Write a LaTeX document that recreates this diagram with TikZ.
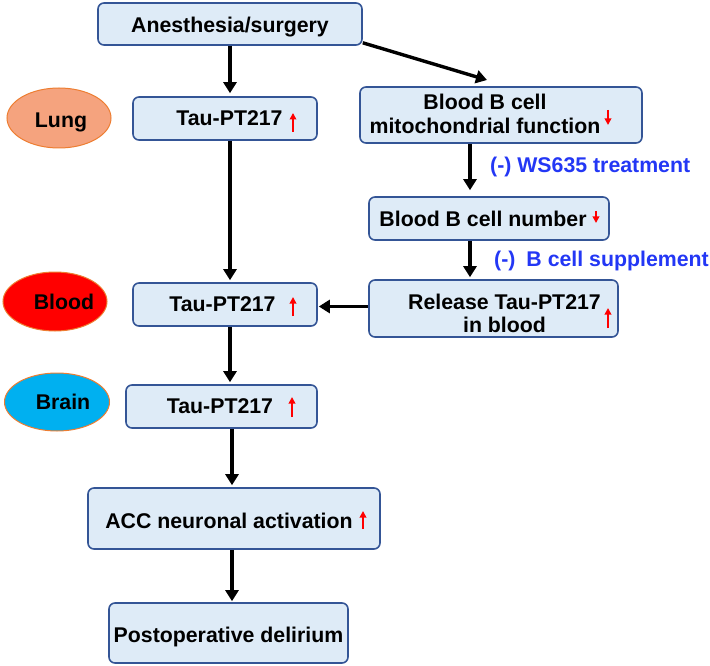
\documentclass[tikz,border=0pt]{standalone}
\usepackage{fontspec}
\setmainfont{Liberation Sans}
\usetikzlibrary{arrows.meta,shapes.geometric}
\definecolor{boxfill}{RGB}{222,235,247}
\definecolor{boxline}{RGB}{52,85,150}
\definecolor{regionline}{RGB}{237,125,49}
\definecolor{lungfill}{RGB}{245,163,126}
\definecolor{bloodfill}{RGB}{255,0,0}
\definecolor{brainfill}{RGB}{0,176,240}
\definecolor{noteblue}{RGB}{35,55,245}
\begin{document}
\begin{tikzpicture}[x=1pt,y=-1pt,
  font=\bfseries\fontsize{21.3}{23.5}\selectfont,
  box/.style={draw=boxline, fill=boxfill, line width=1.6pt, rounded corners=6pt, inner sep=0pt},
  region/.style={ellipse, draw=regionline, line width=1pt, inner sep=0pt, minimum width=104pt, minimum height=59pt},
  arr/.style={line width=3.4pt, -{Triangle[length=11pt,width=13pt]}},
  redup/.style={draw=red, line width=2pt, -{Triangle[length=6.5pt,width=6.5pt]}},
  note/.style={text=noteblue, anchor=west, inner sep=0pt}]
\useasboundingbox (0,0) rectangle (710,666);

% boxes
\node[box, minimum width=264pt, minimum height=42pt, label={[text depth=0pt,yshift=-1pt]center:Anesthesia/surgery}] (anest) at (230,24) {};
\node[box, minimum width=184pt, minimum height=43pt, label={[xshift=4.5pt]center:Tau-PT217}] (tau1) at (225,118.5) {};
\node[box, minimum width=282pt, minimum height=56pt, label={[xshift=-16pt,yshift=1pt,align=center]center:Blood B cell\\mitochondrial function}] (mito) at (501,115) {};
\node[box, minimum width=240pt, minimum height=43pt, label={[xshift=-6pt]center:Blood B cell number}] (number) at (489,218.5) {};
\node[box, minimum width=249pt, minimum height=57pt, label={[xshift=11pt,yshift=-5pt,align=center]center:Release Tau-PT217\\in blood}] (release) at (493.5,308.5) {};
\node[box, minimum width=184pt, minimum height=43pt, label={[xshift=-2.5pt]center:Tau-PT217}] (tau2) at (225,304.5) {};
\node[box, minimum width=191pt, minimum height=43pt, label={[xshift=-1.5pt]center:Tau-PT217}] (tau3) at (221.5,406.5) {};
\node[box, minimum width=292pt, minimum height=61pt, label={[xshift=-5pt,yshift=-2pt]center:ACC neuronal activation}] (acc) at (234,518.5) {};
\node[box, minimum width=239pt, minimum height=60pt, label={[text depth=0pt,yshift=-2pt]center:Postoperative delirium}] (post) at (228.5,633) {};

% region ellipses
\node[region, fill=lungfill, minimum height=60pt, label={[text depth=0pt,xshift=2pt,yshift=-2pt]center:Lung}] (lung) at (59,118) {};
\node[region, fill=bloodfill, label={[xshift=9pt]center:Blood}] (blood) at (55,301.5) {};
\node[region, fill=brainfill, minimum width=105pt, minimum height=58pt, label={[xshift=6pt]center:Brain}] (brain) at (57,402) {};

% notes
\node[note] (ws) at (490,167) {(-) WS635 treatment};
\node[note] (bsup) at (494,261) {(-)\hspace{11pt}B cell supplement};

% connector helpers
\coordinate (mitoin) at (487,80);
\coordinate (rcol) at (470,0);
\coordinate (lcol) at (232,0);

% connectors
\draw[arr, shorten >=3pt] (anest.south) -- (anest.south |- tau1.north);
\draw[arr] ([yshift=3pt]anest.south east) -- (mitoin);
\draw[arr, shorten >=6pt] (mito.south -| rcol) -- (number.north -| rcol);
\draw[arr, shorten >=2pt] (number.south -| rcol) -- (release.north -| rcol);
\draw[arr, shorten >=1pt] ([yshift=2pt]release.west) -- ([yshift=2pt]release.west -| tau2.east);
\draw[arr, shorten >=2pt] (tau1.south -| anest.south) -- (tau2.north -| anest.south);
\draw[arr, shorten >=2pt] (tau2.south -| anest.south) -- (tau3.north -| anest.south);
\draw[arr, shorten >=2pt] (tau3.south -| lcol) -- (acc.north -| lcol);
\draw[arr, shorten >=1pt] (acc.south -| lcol) -- (post.north -| lcol);

% red change marks
\draw[redup] (293,132) -- (293,113);
\draw[redup] (608,110) -- (608,125);
\draw[redup] (596,211) -- (596,223);
\draw[redup] (608,328) -- (608,308);
\draw[redup] (293,316) -- (293,297);
\draw[redup] (292,417) -- (292,397);
\draw[redup] (363,529) -- (363,511);
\end{tikzpicture}
\end{document}
